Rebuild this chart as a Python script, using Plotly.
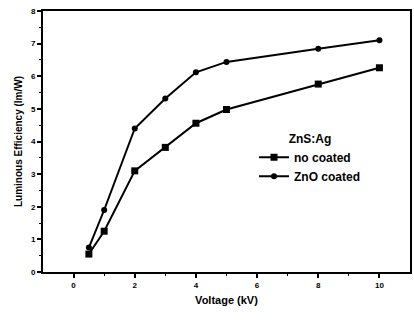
import plotly.graph_objects as go

voltage = [0.5, 1, 2, 3, 4, 5, 8, 10]
no_coated = [0.55, 1.25, 3.1, 3.82, 4.56, 4.98, 5.76, 6.26]
zno_coated = [0.75, 1.9, 4.4, 5.32, 6.12, 6.44, 6.84, 7.1]
x_ticks = [0, 2, 4, 6, 8, 10]
y_ticks = [0, 1, 2, 3, 4, 5, 6, 7, 8]

font_family = "Liberation Sans, Arial, sans-serif"

fig = go.Figure()
fig.add_trace(go.Scatter(
    x=voltage, y=no_coated, name="<b>no coated</b>", mode="lines+markers",
    line=dict(color="black", width=2),
    marker=dict(symbol="square", size=7, color="black"),
))
fig.add_trace(go.Scatter(
    x=voltage, y=zno_coated, name="<b>ZnO coated</b>", mode="lines+markers",
    line=dict(color="black", width=2),
    marker=dict(symbol="circle", size=6, color="black"),
))

fig.update_layout(
    width=414, height=320,
    margin=dict(l=43, r=2, t=11, b=48),
    paper_bgcolor="white", plot_bgcolor="white",
    font=dict(family=font_family, color="black"),
    showlegend=True,
    legend=dict(
        x=0.575, y=0.555, xanchor="left", yanchor="top",
        bgcolor="rgba(0,0,0,0)",
        title=dict(text="<b>ZnS:Ag</b>", side="top center", font=dict(size=12)),
        font=dict(size=12),
        itemwidth=30, tracegroupgap=0,
    ),
    xaxis=dict(
        range=[-1, 11], tickvals=x_ticks, ticktext=[f"<b>{v}</b>" for v in x_ticks],
        ticks="outside", ticklen=4, tickwidth=2, tickcolor="black",
        minor=dict(tickvals=[1, 3, 5, 7, 9], ticks="outside", ticklen=2, tickwidth=1, tickcolor="black"),
        showline=True, linecolor="black", linewidth=2, mirror=True,
        showgrid=False, zeroline=False,
        tickfont=dict(size=8),
        title=dict(text="<b>Voltage (kV)</b>", font=dict(size=11), standoff=8),
    ),
    yaxis=dict(
        range=[0, 8], tickvals=y_ticks, ticktext=[f"<b>{v}</b>" for v in y_ticks],
        ticks="outside", ticklen=4, tickwidth=2, tickcolor="black",
        minor=dict(tickvals=[0.5, 1.5, 2.5, 3.5, 4.5, 5.5, 6.5, 7.5], ticks="outside", ticklen=2, tickwidth=1, tickcolor="black"),
        showline=True, linecolor="black", linewidth=2, mirror=True,
        showgrid=False, zeroline=False,
        tickfont=dict(size=8),
        title=dict(text="<b>Luminous Efficiency (lm/W)</b>", font=dict(size=10), standoff=6),
    ),
)

fig.write_html("out.html")
